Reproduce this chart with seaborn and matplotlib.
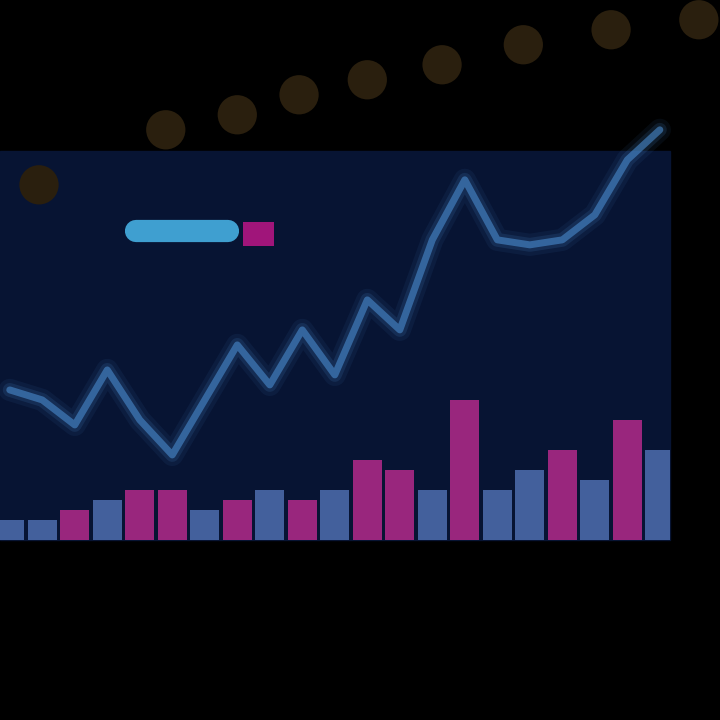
import matplotlib
matplotlib.use("Agg")
import matplotlib.pyplot as plt
from matplotlib.lines import Line2D
from matplotlib.patches import Patch, Rectangle
import seaborn as sns
import numpy as np
import pandas as pd

# ---- data ----
t = list(range(21))
price = [17, 16, 13.5, 19, 14, 10.5, 16, 21.5, 17.5, 23, 18.5, 26, 23, 32, 38,
         32, 31.5, 32, 34.5, 40, 43]
volume = [20, 20, 30, 40, 50, 50, 30, 40, 50, 40, 50, 80, 70, 50, 140, 50, 70,
          90, 60, 120, 90]
vol_kind = ["b", "b", "m", "b", "m", "m", "b", "m", "b", "m", "b", "m", "m", "b",
            "m", "b", "b", "m", "b", "m", "b"]
ma_t = [0.9, 4.8, 7.0, 8.9, 11.0, 13.3, 15.8, 18.5, 21.2]
ma_val = [37.5, 43, 44.5, 46.5, 48, 49.5, 51.5, 53, 54]

sns.set_theme(style="dark")
fig = plt.figure(figsize=(7.2, 7.2), dpi=100)
fig.patch.set_facecolor("#000000")
fig.patches.append(Rectangle((0.0, 0.25), 0.93, 0.54, transform=fig.transFigure,
                             color="#071433", zorder=-1))

ax = fig.add_axes([0.0, 0.25, 0.93, 0.56])
for s in ax.spines.values():
    s.set_visible(False)

# volume bars on twin axis
axv = ax.twinx()
df_v = pd.DataFrame({"t": t, "v": volume, "k": vol_kind})
colors = {"m": "#c0138f", "b": "#3a64b8"}
sns.barplot(data=df_v, x="t", y="v", hue="k", palette=colors, native_scale=True,
            ax=axv, legend=False, width=0.9, alpha=0.9, linewidth=0)
axv.set_ylim(0, 403)
axv.set_axis_off()

# price line with glow
df_p = pd.DataFrame({"t": t, "p": price})
for lw, a in [(16, 0.08), (10, 0.15), (5, 0.6)]:
    sns.lineplot(data=df_p, x="t", y="p", ax=ax, color="#4a8ccf", lw=lw, alpha=a)
ax.set_zorder(axv.get_zorder() + 1)
ax.patch.set_visible(False)

# moving-average dots above
df_ma = pd.DataFrame({"t": ma_t, "m": ma_val})
sns.scatterplot(data=df_ma, x="t", y="m", ax=ax, s=800, color="#2a1f0e",
                edgecolor="none", clip_on=False)

ax.set_xlim(-0.3, 20.3)
ax.set_ylim(2, 42.3)
ax.set_xticks([])
ax.set_yticks([])
ax.grid(False)
ax.set_xlabel("")
ax.set_ylabel("")
for l in ax.lines:
    l.set_clip_on(False)

# legend handles (no readable text in the reference)
handles = [Line2D([], [], color="#3f9fd0", lw=16, solid_capstyle="round"),
           Patch(facecolor="#a0157a", edgecolor="none")]
leg = fig.legend(handles, ["", ""], loc="center left", ncol=2,
                 bbox_to_anchor=(0.17, 0.675), frameon=False,
                 handlelength=6, handleheight=2, columnspacing=0.2)
leg.legend_handles[1].set_width(22)

fig.savefig("out.png", dpi=100, facecolor=fig.get_facecolor())
